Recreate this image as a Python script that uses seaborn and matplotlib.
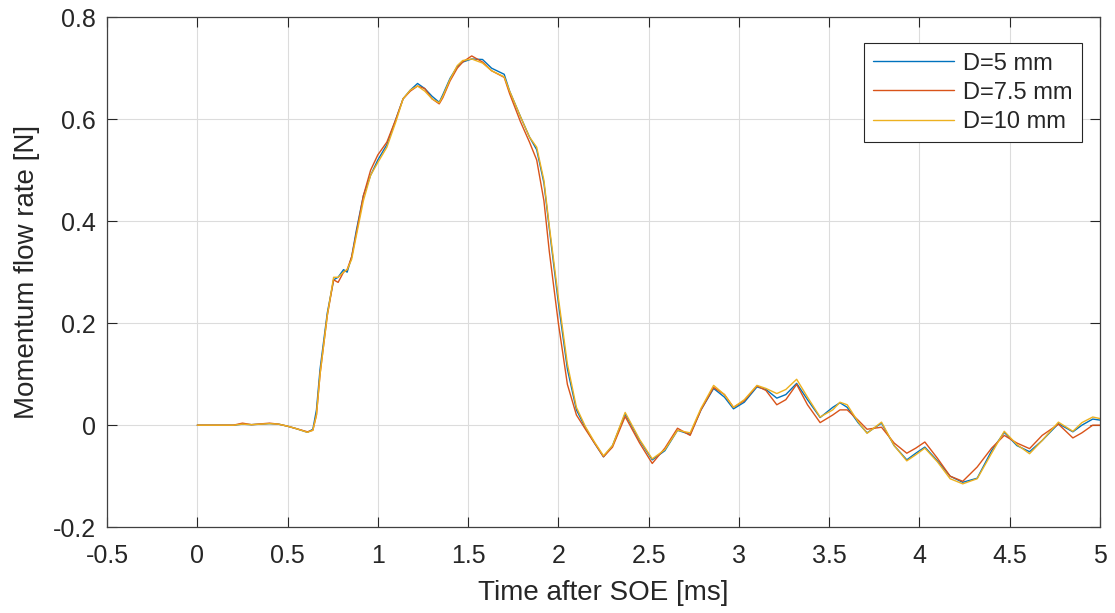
import numpy as np
import pandas as pd
import matplotlib
matplotlib.use("Agg")
import matplotlib.pyplot as plt
import seaborn as sns

# time after SOE [ms]
t = [0, 0.1, 0.2, 0.25, 0.3, 0.4, 0.45, 0.5, 0.55, 0.61,
     0.64, 0.66, 0.68, 0.72, 0.755, 0.78, 0.81, 0.83, 0.855, 0.88,
     0.92, 0.96, 1.0, 1.05, 1.1, 1.14, 1.18, 1.22, 1.26, 1.3,
     1.34, 1.36, 1.4, 1.44, 1.47, 1.52, 1.58, 1.63, 1.7, 1.73,
     1.79, 1.84, 1.88, 1.92, 1.95, 2.0, 2.05, 2.1, 2.15, 2.2,
     2.25, 2.3, 2.37, 2.45, 2.52, 2.59, 2.66, 2.73, 2.79, 2.86,
     2.92, 2.97, 3.03, 3.1, 3.15, 3.21, 3.26, 3.32, 3.38, 3.45,
     3.52, 3.56, 3.6, 3.66, 3.71, 3.79, 3.86, 3.93, 3.98, 4.03,
     4.1, 4.17, 4.24, 4.32, 4.4, 4.47, 4.54, 4.61, 4.68, 4.77,
     4.85, 4.9, 4.96, 5.0]

# momentum flow rate [N]
d5 = [0, 0, 0, 0.002, 0.001, 0.003, 0.002, -0.002, -0.007, -0.014,
      -0.008, 0.03, 0.11, 0.22, 0.285, 0.29, 0.305, 0.30, 0.33, 0.38,
      0.45, 0.49, 0.52, 0.55, 0.60, 0.64, 0.657, 0.67, 0.66, 0.645,
      0.633, 0.648, 0.68, 0.703, 0.712, 0.718, 0.717, 0.70, 0.688, 0.655,
      0.605, 0.565, 0.54, 0.475, 0.385, 0.24, 0.11, 0.03, -0.005, -0.035,
      -0.062, -0.04, 0.022, -0.03, -0.068, -0.05, -0.01, -0.018, 0.03, 0.072,
      0.055, 0.032, 0.045, 0.075, 0.07, 0.053, 0.06, 0.082, 0.05, 0.015,
      0.035, 0.044, 0.035, 0.005, -0.015, 0.004, -0.04, -0.068, -0.055, -0.043,
      -0.07, -0.1, -0.112, -0.104, -0.05, -0.014, -0.04, -0.052, -0.03, 0.003,
      -0.013, 0.0, 0.012, 0.01]
d75 = [0, 0, 0, 0.004, 0.001, 0.004, 0.002, -0.002, -0.007, -0.013,
       -0.010, 0.02, 0.10, 0.215, 0.285, 0.28, 0.30, 0.305, 0.33, 0.375,
       0.45, 0.50, 0.53, 0.555, 0.60, 0.64, 0.655, 0.665, 0.66, 0.64,
       0.63, 0.642, 0.675, 0.70, 0.712, 0.724, 0.712, 0.695, 0.682, 0.65,
       0.595, 0.555, 0.52, 0.44, 0.34, 0.2, 0.08, 0.02, -0.008, -0.035,
       -0.062, -0.043, 0.017, -0.035, -0.075, -0.045, -0.006, -0.02, 0.03, 0.074,
       0.06, 0.035, 0.048, 0.077, 0.068, 0.04, 0.05, 0.08, 0.04, 0.005,
       0.02, 0.03, 0.03, 0.01, -0.008, -0.004, -0.035, -0.055, -0.045, -0.033,
       -0.065, -0.1, -0.11, -0.082, -0.045, -0.02, -0.035, -0.046, -0.02, 0.002,
       -0.025, -0.015, 0.0, 0.0]
d10 = [0, 0, 0, 0.002, 0.001, 0.003, 0.002, -0.002, -0.007, -0.014,
       -0.010, 0.02, 0.10, 0.215, 0.29, 0.29, 0.30, 0.305, 0.325, 0.37,
       0.44, 0.49, 0.515, 0.545, 0.595, 0.64, 0.657, 0.665, 0.655, 0.64,
       0.632, 0.645, 0.678, 0.705, 0.715, 0.718, 0.71, 0.695, 0.683, 0.655,
       0.605, 0.565, 0.545, 0.48, 0.39, 0.25, 0.12, 0.035, -0.003, -0.033,
       -0.06, -0.04, 0.025, -0.028, -0.066, -0.048, -0.01, -0.015, 0.033, 0.078,
       0.06, 0.035, 0.05, 0.078, 0.072, 0.062, 0.07, 0.09, 0.055, 0.016,
       0.03, 0.045, 0.04, 0.007, -0.016, 0.006, -0.04, -0.07, -0.058, -0.045,
       -0.072, -0.105, -0.115, -0.105, -0.055, -0.012, -0.038, -0.056, -0.03, 0.006,
       -0.012, 0.005, 0.016, 0.013]

labels = ["D=5 mm", "D=7.5 mm", "D=10 mm"]
colors = ["#0072BD", "#D95319", "#EDB120"]
xtick_labels = ["-0.5", "0", "0.5", "1", "1.5", "2", "2.5", "3", "3.5", "4", "4.5", "5"]
ytick_labels = ["-0.2", "0", "0.2", "0.4", "0.6", "0.8"]

df = pd.concat([
    pd.DataFrame({"t": t, "F": d5, "case": labels[0]}),
    pd.DataFrame({"t": t, "F": d75, "case": labels[1]}),
    pd.DataFrame({"t": t, "F": d10, "case": labels[2]}),
])

sns.set_style("whitegrid")
plt.rcParams['font.family'] = ['Liberation Sans', 'DejaVu Sans']

fig = plt.figure(figsize=(11.15, 6.13), dpi=100)
ax = fig.add_axes([0.096, 0.140, 0.8905, 0.832])

sns.lineplot(data=df, x="t", y="F", hue="case", palette=colors,
             linewidth=1.0, ax=ax, sort=False)

ax.set_xlim(-0.5, 5)
ax.set_ylim(-0.2, 0.8)
ax.set_xticks(np.arange(-0.5, 5.01, 0.5))
ax.set_xticklabels(xtick_labels)
ax.set_yticks([-0.2, 0, 0.2, 0.4, 0.6, 0.8])
ax.set_yticklabels(ytick_labels)
ax.set_xlabel("Time after SOE [ms]", fontsize=20, color="#262626", labelpad=9)
ax.set_ylabel("Momentum flow rate [N]", fontsize=20, color="#262626", labelpad=9)

ax.grid(True, color="#dcdcdc", linewidth=0.8)
for s in ax.spines.values():
    s.set_visible(True)
    s.set_color("#404040")
    s.set_linewidth(0.9)
ax.tick_params(direction="in", length=7, width=0.8, colors="#262626",
               labelsize=18, top=True, right=True, bottom=True, left=True)
ax.tick_params(axis="x", pad=12)
ax.tick_params(axis="y", pad=8)

leg = ax.legend(loc="upper right", bbox_to_anchor=(0.982, 0.949), borderaxespad=0,
                fontsize=17, frameon=True, fancybox=False, edgecolor="#262626",
                framealpha=1, handlelength=3.4, handletextpad=0.4,
                labelspacing=0.3, borderpad=0.4)
leg.get_frame().set_linewidth(0.8)

fig.savefig("out.png", dpi=100)
